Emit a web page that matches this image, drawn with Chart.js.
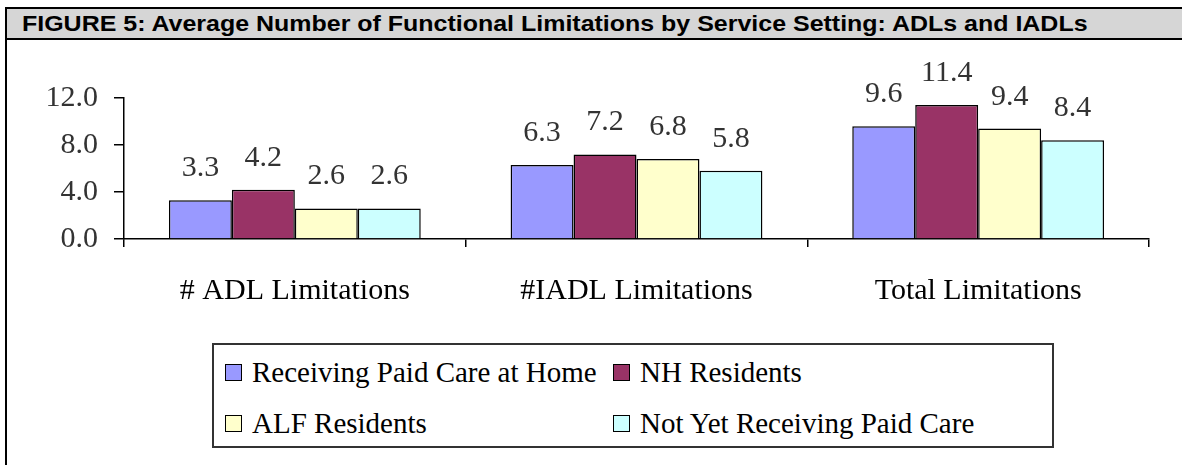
<!DOCTYPE html>
<html>
<head>
<meta charset="utf-8">
<script src="https://cdn.jsdelivr.net/npm/chart.js@4.4.1/dist/chart.umd.min.js"></script>
<style>
    html, body { margin: 0; padding: 0; background: #fff; }
    #page { position: relative; width: 1182px; height: 465px; overflow: hidden; }
    #frame { position: absolute; left: 5px; top: 7px; width: 2px; height: 458px; background: #000; }
    #title {
        position: absolute; left: 5px; top: 7px; width: 1171px; height: 29px;
        border: 2px solid #000; background: #d6d6d6;
        font: bold 22px "Liberation Sans", Arial, sans-serif; color: #000;
        line-height: 29px; padding-left: 15px; box-sizing: content-box;
        white-space: nowrap;
    }
    #title span { display: inline-block; transform-origin: left center; }
    #chartBox { position: absolute; left: 0; top: 0; width: 1182px; height: 330px; }
    #legend {
        position: absolute; left: 212px; top: 343px; width: 838px; height: 101px;
        border: 2px solid #333; background: #fff;
        font: 29px "Liberation Serif", "Times New Roman", serif; color: #000;
    }
    .item { position: absolute; display: flex; align-items: center; white-space: nowrap; }
    .swatch { width: 15px; height: 15px; border: 1px solid #000; margin-right: 10px; }
</style>
</head>
<body>
<div id="page">
    <div id="chartBox"><canvas id="limitsChart"></canvas></div>
    <div id="frame"></div>
    <div id="title"><span id="titleText">FIGURE 5: Average Number of Functional Limitations by Service Setting: ADLs and IADLs</span></div>
    <div id="legend"></div>
</div>
<script>
// ========================================
// DATA
// ========================================
const categories = ['# ADL Limitations', '#IADL Limitations', 'Total Limitations'];
const seriesNames = ['Receiving Paid Care at Home', 'NH Residents', 'ALF Residents', 'Not Yet Receiving Paid Care'];
const paidCareHome = [3.3, 6.3, 9.6];
const nhResidents = [4.2, 7.2, 11.4];
const alfResidents = [2.6, 6.8, 9.4];
const notYetPaid = [2.6, 5.8, 8.4];
const yTicks = [0, 4, 8, 12];

const seriesColors = ['#9999ff', '#993366', '#ffffcc', '#ccffff'];
const serifFont = '"Liberation Serif", "Times New Roman", serif';

// stretch the title so it spans the bar like the original
const titleText = document.getElementById('titleText');
titleText.style.transform = 'scaleX(' + (1066 / titleText.offsetWidth).toFixed(3) + ')';

// ========================================
// VALUE LABELS PLUGIN
// ========================================
const valueLabels = {
    id: 'valueLabels',
    afterDatasetsDraw(chart) {
        const ctx = chart.ctx;
        ctx.save();
        ctx.font = '30px ' + serifFont;
        ctx.fillStyle = '#333';
        ctx.textAlign = 'center';
        ctx.textBaseline = 'alphabetic';
        chart.data.datasets.forEach((ds, i) => {
            chart.getDatasetMeta(i).data.forEach((bar, j) => {
                ctx.fillText(ds.data[j].toFixed(1), bar.x, bar.y - 24);
            });
        });
        ctx.restore();
    }
};

// ========================================
// CHART
// ========================================
const allSeries = [paidCareHome, nhResidents, alfResidents, notYetPaid];

const chart = new Chart(document.getElementById('limitsChart'), {
    type: 'bar',
    data: {
        labels: categories,
        datasets: allSeries.map((values, i) => ({
            label: seriesNames[i],
            data: values,
            backgroundColor: seriesColors[i],
            borderColor: '#000',
            borderWidth: 1.5,
            categoryPercentage: 0.737,
            barPercentage: 1.0
        }))
    },
    options: {
        responsive: true,
        maintainAspectRatio: false,
        animation: false,
        layout: {
            padding: { left: 44, right: 33, top: 98, bottom: 21 }
        },
        plugins: {
            legend: { display: false },
            tooltip: { enabled: false }
        },
        scales: {
            x: {
                grid: {
                    display: true,
                    drawOnChartArea: false,
                    drawTicks: true,
                    tickLength: 8,
                    color: '#000',
                    lineWidth: 1.5
                },
                border: { display: true, color: '#000', width: 1.5 },
                ticks: {
                    color: '#000',
                    padding: 26,
                    maxRotation: 0,
                    font: { family: serifFont, size: 30 }
                },
                afterFit: function(scale) { scale.height = 70; }
            },
            y: {
                min: 0,
                max: 12,
                afterBuildTicks: function(scale) {
                    scale.ticks = yTicks.map(v => ({ value: v }));
                },
                grid: {
                    display: true,
                    drawOnChartArea: false,
                    drawTicks: true,
                    tickLength: 10,
                    color: '#000',
                    lineWidth: 1.5
                },
                border: { display: true, color: '#000', width: 1.5 },
                ticks: {
                    color: '#333',
                    padding: 16,
                    font: { family: serifFont, size: 30 },
                    callback: v => v.toFixed(1)
                },
                afterFit: function(scale) { scale.width = 80; }
            }
        }
    },
    plugins: [valueLabels]
});

// ========================================
// LEGEND (2 columns, like the original)
// ========================================
const legendEl = document.getElementById('legend');
const colX = [11, 399];
const rowY = [27, 78];
chart.data.datasets.forEach((ds, i) => {
    const item = document.createElement('div');
    item.className = 'item';
    item.style.left = colX[i % 2] + 'px';
    item.style.top = (rowY[Math.floor(i / 2)] - 18) + 'px';
    item.style.height = '36px';
    item.innerHTML = '<span class="swatch" style="background:' + ds.backgroundColor + '"></span><span>' + ds.label + '</span>';
    legendEl.appendChild(item);
});
</script>
</body>
</html>
